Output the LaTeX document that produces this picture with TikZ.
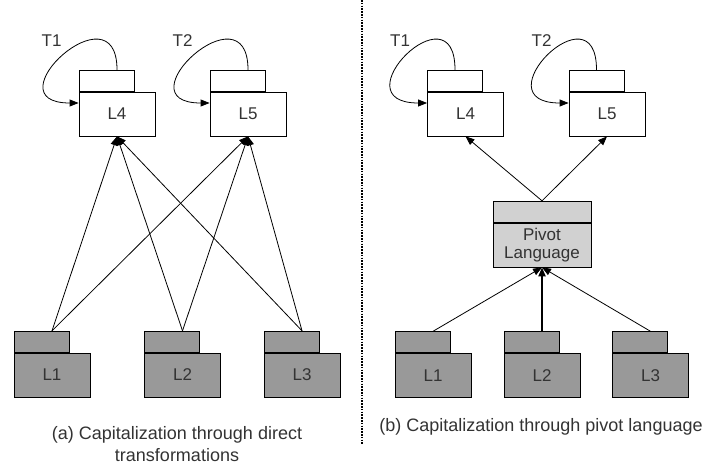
\documentclass[tikz,border=0pt]{standalone}
\usepackage{fontspec}
\setmainfont{Liberation Sans}
\usetikzlibrary{arrows.meta}

\begin{document}
\begin{tikzpicture}[x=1pt,y=-1pt,
    body/.style={draw,line width=0.8pt,minimum width=76pt,minimum height=44pt,inner sep=0pt,
        align=center,text=black!80,font=\fontsize{17}{18}\selectfont},
    tab/.style={draw,line width=0.8pt,minimum width=55pt,minimum height=21pt,inner sep=0pt,anchor=south west},
    dark/.style={fill=black!40},
    pale/.style={fill=black!18},
    link/.style={line width=0.8pt,-{Triangle[length=9pt,width=7pt]}},
    lbl/.style={text=black!80,font=\fontsize{17}{18}\selectfont},
    captext/.style={align=center,text=black!80,font=\fontsize{18}{22}\selectfont}]
    \newcommand{\pkg}[4]{%
        \node[body,#3] (#1) at (#2) {#4};
        \node[tab,#3] (#1t) at (#1.north west) {};}
    \useasboundingbox (0,0) rectangle (708,465);
    % (a) direct transformations
    \pkg{aL4}{117,114}{}{L4}
    \pkg{aL5}{248,114}{}{L5}
    \pkg{aL1}{52,375}{dark}{L1}
    \pkg{aL2}{182.5,375}{dark}{L2}
    \pkg{aL3}{302,375}{dark}{L3}
    \foreach \s in {aL1,aL2,aL3}
        \foreach \t in {aL4,aL5}
            \draw[link] (\s|-\s t.north) -- (\t.south);
    \draw[link] (aL4|-aL4t.north) .. controls +(0,-85) and +(-90,0) .. ([yshift=11pt]aL4.west);
    \draw[link] (aL5|-aL5t.north) .. controls +(0,-85) and +(-90,0) .. ([yshift=11pt]aL5.west);
    \node[lbl] (aT1) at ([xshift=-27pt,yshift=73pt]aL4.west) {T1};
    \node[lbl] (aT2) at ([xshift=-27pt,yshift=73pt]aL5.west) {T2};
    \node[captext] (acap) at (177,444) {(a) Capitalization through direct\\transformations};
    \draw[line width=1.6pt,dash pattern=on 1.6pt off 1.2pt] (362,0) -- (362,445);
    % (b) pivot language
    \pkg{bL4}{465.5,114}{}{L4}
    \pkg{bL5}{607,114}{}{L5}
    \pkg{bPiv}{542,245}{pale,minimum width=98pt}{Pivot\\Language}
    \pkg{bL1}{433,375.5}{dark}{L1}
    \pkg{bL2}{542,375.5}{dark}{L2}
    \pkg{bL3}{650.5,375.5}{dark}{L3}
    \draw[link] (bPiv|-bPivt.north) -- (bL4.south);
    \draw[link] (bPiv|-bPivt.north) -- (bL5.south);
    \draw[link] (bL1|-bL1t.north) -- (bPiv.south);
    \draw[link,line width=2pt] (bL2|-bL2t.north) -- (bPiv.south);
    \draw[link] (bL3|-bL3t.north) -- (bPiv.south);
    \draw[link] (bL4t.north) .. controls +(0,-85) and +(-90,0) .. ([yshift=11pt]bL4.west);
    \draw[link] (bL5t.north) .. controls +(0,-85) and +(-90,0) .. ([yshift=11pt]bL5.west);
    \node[lbl] (bT1) at ([xshift=-27pt,yshift=73pt]bL4.west) {T1};
    \node[lbl] (bT2) at ([xshift=-27pt,yshift=73pt]bL5.west) {T2};
    \node[captext] (bcap) at (541,427) {(b) Capitalization through pivot language};
\end{tikzpicture}
\end{document}
